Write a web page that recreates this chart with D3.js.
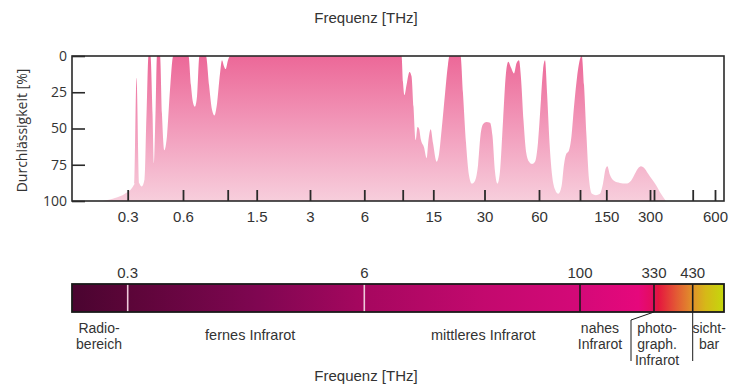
<!DOCTYPE html>
<html>
<head>
<meta charset="utf-8">
<script src="https://cdn.jsdelivr.net/npm/d3@7/dist/d3.min.js"></script>
<style>
  html, body { margin: 0; padding: 0; background: #fff; }
  svg { display: block; }
</style>
</head>
<body>
<svg id="chart" width="730" height="387"></svg>
<script>
// Atmospheric transmission curve: frequency [THz] and value on the inverted percent axis
const freqTHz = [0.22, 0.256, 0.29, 0.3206, 0.3267, 0.335, 0.3478, 0.3576, 0.3704, 0.3798, 0.3894,
  0.399, 0.4095, 0.417, 0.425, 0.433, 0.45, 0.461, 0.4746, 0.491, 0.51, 0.531,
  0.639, 0.657, 0.6726, 0.688, 0.704, 0.724,
  0.78, 0.808, 0.836, 0.86, 0.885, 0.916, 0.937, 0.958, 0.977, 1.004, 1.033,
  9.85, 10.04, 10.24, 10.52, 10.94, 11.24, 11.54, 11.88, 12.17, 12.41, 12.74, 13.26, 13.74, 14.07, 14.49, 14.94,
  15.7, 16.2, 16.88, 17.58, 18.3, 18.68, 21.69, 22.4, 23.36, 24.3, 25.3, 26.4, 27.5, 28.4, 29.4,
  30.77, 32.17, 33.2, 34.3, 35.4, 36.5, 37.96, 39.4, 40.6, 42.0, 43.65, 45.05, 46.5, 47.7, 49.3, 50.9, 52.9, 54.9, 57.0, 59.2,
  61.5, 63.06, 64.66, 66.3, 68.4, 70.6, 73.25, 76.3, 79.4, 81.9, 84.0, 87.2, 89.4, 92.8, 96.3,
  100.8, 102.8, 106.4, 110.5, 114.9, 120.3, 127.9, 136.1, 142.6, 148.2,
  152.4, 159.1, 169.5, 186.4, 205, 222, 236.6, 248, 260, 272.8, 290.6, 314.5, 334.5, 343.8, 358];
const percent = [100, 98, 95, 90, 88, 15, 88, 90, 85, 40, 0,
  0, 40, 74, 40, 0, 0, 40, 65, 55, 23, 0,
  0, 20, 32, 35, 28, 0,
  0, 20, 37, 41, 33, 12, 3, 7, 9, 3, 0,
  0, 18, 27, 20, 11, 14, 35, 58, 49, 50, 58, 63, 70.5, 58, 50.5, 60,
  73, 68, 48, 26, 6, 0, 0, 25, 60, 82, 88, 86, 75, 55, 47,
  45.5, 46, 55, 80, 88, 80, 45, 12, 4, 8, 12, 5, 3, 15, 45, 66, 73, 74.5, 73, 60,
  30, 10, 3, 25, 60, 82, 92, 95, 90, 75, 68, 65, 58, 35, 15,
  1, 0, 20, 55, 85, 95, 96, 95, 88, 78,
  76, 82, 86, 87.5, 88, 86, 81, 77.5, 76, 77, 81, 85, 89, 94, 100];

// Axis ticks and labels
const freqTicks = [0.3, 0.6, 1, 1.5, 3, 6, 10, 15, 30, 60, 100, 150, 300, 330, 430, 600];
const freqLabels = [0.3, 0.6, 1.5, 3, 6, 15, 30, 60, 150, 300, 600];
const percentTicks = [0, 25, 50, 75, 100];

// Spectrum band boundaries [THz] and their divider style
const bandEdges = [0.3, 6, 100, 330, 430];
const bandEdgeLight = [true, true, false, false, false];

// Spectrum colour stops along frequency
const stopFreq = [0.15, 0.3, 1.5, 6, 30, 100, 250, 325, 340, 385, 430, 520, 690];
const stopColor = ["#4a0430", "#5b0538", "#7f0651", "#a6075f", "#c3096e", "#d40978", "#e6087c",
  "#e40d5c", "#e5163e", "#e35a34", "#e0922a", "#d6b818", "#c4d80c"];

// Band names and the frequencies they are centred on
const bandNames = [["Radio-", "bereich"], ["fernes Infrarot"], ["mittleres Infrarot"],
  ["nahes", "Infrarot"], ["photo-", "graph.", "Infrarot"], ["sicht-", "bar"]];
const bandNameFreq = [0.21, 1.37, 29.5, 136, 337, 550];

const svg = d3.select("#chart");

// Frequency scale: piecewise logarithmic
const x = d3.scaleLog()
  .domain([0.15, 0.3, 0.6, 1, 1.5, 3, 6, 10, 15, 30, 60, 100, 150, 300, 330, 430, 600, 690])
  .range([72, 127.7, 183, 227.7, 256.7, 310, 364.3, 402.7, 433.3, 484.5, 539, 580, 606.3, 650, 654, 692.7, 715, 724]);

const plotTop = 56, plotBottom = 201, plotLeft = 72, plotRight = 724;
const y = d3.scaleLinear().domain([0, 100]).range([plotTop, plotBottom]);

const defs = svg.append("defs");

// Vertical pink gradient for the transmission area
const ag = defs.append("linearGradient").attr("id", "areaGrad")
  .attr("gradientUnits", "userSpaceOnUse")
  .attr("x1", 0).attr("x2", 0).attr("y1", plotTop).attr("y2", plotBottom);
ag.append("stop").attr("offset", 0).attr("stop-color", "#ec6898");
ag.append("stop").attr("offset", 0.5).attr("stop-color", "#f29bbb");
ag.append("stop").attr("offset", 1).attr("stop-color", "#f7cedc");

defs.append("clipPath").attr("id", "plotClip").append("rect")
  .attr("x", plotLeft).attr("y", plotTop)
  .attr("width", plotRight - plotLeft).attr("height", plotBottom - plotTop);

// Transmission area
const pts = freqTHz.map((f, i) => [f, percent[i]]);
const area = d3.area()
  .x(d => x(d[0]))
  .y0(y(100))
  .y1(d => y(d[1]))
  .curve(d3.curveMonotoneX);

svg.append("path")
  .datum(pts)
  .attr("clip-path", "url(#plotClip)")
  .attr("fill", "url(#areaGrad)")
  .attr("d", area);

// Plot frame
svg.append("rect")
  .attr("x", plotLeft).attr("y", plotTop)
  .attr("width", plotRight - plotLeft).attr("height", plotBottom - plotTop)
  .attr("fill", "none").attr("stroke", "#2a2a2a").attr("stroke-width", 1.6);

// Frequency ticks (pointing inward)
const xTicks = svg.append("g").attr("transform", `translate(0,${plotBottom})`)
  .call(d3.axisBottom(x).tickValues(freqTicks).tickSize(-11).tickFormat(""));
xTicks.select(".domain").remove();
xTicks.selectAll("line").attr("stroke", "#2a2a2a").attr("stroke-width", 1.8);

const xLab = svg.append("g").attr("transform", `translate(0,${plotBottom})`)
  .call(d3.axisBottom(x).tickValues(freqLabels).tickSize(0).tickPadding(10).tickFormat(d => String(d)));
xLab.select(".domain").remove();
xLab.selectAll("text")
  .attr("font-family", "'Liberation Sans', Arial, sans-serif")
  .attr("font-size", 15).attr("fill", "#333");

// Percent axis
const yAx = svg.append("g").attr("transform", `translate(${plotLeft},0)`)
  .call(d3.axisLeft(y).tickValues(percentTicks).tickSize(-13).tickPadding(6).tickFormat(d => String(d)));
yAx.select(".domain").remove();
yAx.selectAll("line").attr("stroke", "#2a2a2a").attr("stroke-width", 1.6);
yAx.selectAll("text")
  .attr("x", -5)
  .attr("font-family", "'Open Sans', sans-serif")
  .attr("font-size", 14).attr("fill", "#333");

svg.append("text")
  .attr("transform", `translate(27,${(plotTop + plotBottom) / 2 + 2}) rotate(-90)`)
  .attr("text-anchor", "middle")
  .attr("font-family", "'Open Sans', sans-serif")
  .attr("font-size", 14).attr("fill", "#333")
  .text("Durchlässigkeit [%]");

// Titles
svg.append("text").attr("x", 366).attr("y", 23).attr("text-anchor", "middle")
  .attr("font-family", "'Liberation Sans', Arial, sans-serif")
  .attr("font-size", 15).attr("fill", "#333").text("Frequenz [THz]");
svg.append("text").attr("x", 366).attr("y", 381).attr("text-anchor", "middle")
  .attr("font-family", "'Liberation Sans', Arial, sans-serif")
  .attr("font-size", 15).attr("fill", "#333").text("Frequenz [THz]");

// Spectrum bar
const barTop = 284, barBottom = 312;
const sg = defs.append("linearGradient").attr("id", "specGrad")
  .attr("gradientUnits", "userSpaceOnUse")
  .attr("x1", plotLeft).attr("x2", plotRight).attr("y1", 0).attr("y2", 0);
stopFreq.forEach((f, i) => {
  sg.append("stop")
    .attr("offset", (x(f) - plotLeft) / (plotRight - plotLeft))
    .attr("stop-color", stopColor[i]);
});

svg.append("rect")
  .attr("x", plotLeft).attr("y", barTop)
  .attr("width", plotRight - plotLeft).attr("height", barBottom - barTop)
  .attr("fill", "url(#specGrad)");

svg.selectAll("line.edge").data(bandEdges).join("line")
  .attr("class", "edge")
  .attr("x1", d => x(d)).attr("x2", d => x(d))
  .attr("y1", barTop).attr("y2", barBottom)
  .attr("stroke", (d, i) => bandEdgeLight[i] ? "#efc9da" : "#1a1a1a")
  .attr("stroke-width", 1.6);

svg.append("rect")
  .attr("x", plotLeft).attr("y", barTop)
  .attr("width", plotRight - plotLeft).attr("height", barBottom - barTop)
  .attr("fill", "none").attr("stroke", "#1a1a1a").attr("stroke-width", 1.8);

svg.selectAll("text.edge").data(bandEdges).join("text")
  .attr("class", "edge")
  .attr("x", d => x(d)).attr("y", 278)
  .attr("text-anchor", "middle")
  .attr("font-family", "'Liberation Sans', Arial, sans-serif")
  .attr("font-size", 15).attr("fill", "#333")
  .text(d => String(d));

// Leader lines for the narrow bands
const x330 = x(330), x430 = x(430);
svg.append("path")
  .attr("d", `M${x330},${barBottom} L${x330 - 23},${barBottom + 8} L${x330 - 23},${barBottom + 49}`)
  .attr("fill", "none").attr("stroke", "#1a1a1a").attr("stroke-width", 1);
svg.append("line")
  .attr("x1", x430).attr("x2", x430).attr("y1", barBottom).attr("y2", barBottom + 49)
  .attr("stroke", "#1a1a1a").attr("stroke-width", 1);

// Band names, one text element per line
const lineGap = 16.1;
bandNames.forEach((lines, i) => {
  const cx = x(bandNameFreq[i]);
  const single = lines.length === 1;
  const y0 = single ? 340 : 333;
  lines.forEach((ln, j) => {
    svg.append("text")
      .attr("class", "band")
      .attr("x", cx).attr("y", y0 + j * lineGap)
      .attr("text-anchor", "middle")
      .attr("font-family", "'Liberation Sans', Arial, sans-serif")
      .attr("font-size", single ? 14.5 : 14).attr("fill", "#333")
      .text(ln);
  });
});
</script>
</body>
</html>
